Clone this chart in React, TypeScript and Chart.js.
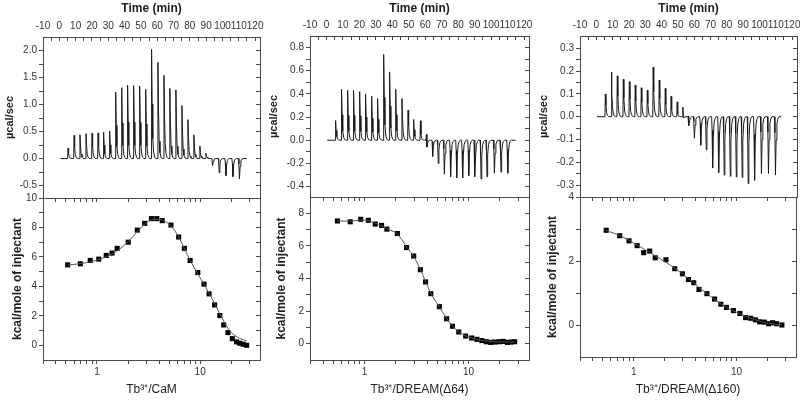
import React, { useEffect, useRef } from "react";
import { Chart, registerables } from "chart.js";

Chart.register(...registerables);

const FONT = "'Liberation Sans', Arial, Helvetica, sans-serif";
const AXIS_COLOR = "#4a4a4a";
const LABEL_COLOR = "#333333";
const TITLE_COLOR = "#1e1e1e";

// ---------- Thermograms (raw ITC, μcal/sec vs time) ----------
const P1_TIMES = [5.1, 8.8, 12.4, 16.1, 19.8, 23.5, 26.9, 30.6, 34.3, 38.0, 41.6, 45.3, 49.0, 52.7, 56.3, 60.2, 63.9, 67.5, 71.2, 74.9, 78.6, 82.2, 85.9, 89.6, 93.3, 97.4, 101.5, 105.8, 109.8];
const P1_UP = [0.19, 0.43, 0.44, 0.46, 0.47, 0.475, 0.49, 0.51, 1.23, 1.31, 1.36, 1.35, 1.34, 1.28, 2.02, 1.78, 1.54, 1.3, 1.27, 0.98, 0.72, 0.44, 0.23, 0.1, 0.05, 0.03, 0.01, 0.01, 0.01];
const P1_DOWN = [0, 0, 0, 0, 0, 0, 0, 0, 0, 0, 0, 0, 0, 0, 0, 0, 0, 0, 0, 0, 0, 0, 0, 0, -0.16, -0.28, -0.32, -0.34, -0.38];

const P2_TIMES = [5.3, 8.9, 12.6, 16.2, 19.9, 23.5, 27.2, 30.8, 34.5, 38.1, 41.8, 45.6, 49.3, 52.7, 56.8, 60.4, 63.9, 67.3, 71.0, 74.8, 78.5, 82.1, 85.8, 89.6, 93.3, 96.9, 101.4, 105.4, 109.5];
const P2_UP = [0.17, 0.44, 0.43, 0.43, 0.42, 0.4, 0.38, 0.36, 0.74, 0.59, 0.44, 0.36, 0.26, 0.18, 0.18, 0.08, 0.04, 0.02, 0.015, 0.01, 0.01, 0.01, 0.01, 0.01, 0.01, 0.01, 0.01, 0.01, 0.01];
const P2_DOWN = [0, 0, 0, 0, 0, 0, 0, 0, 0, 0, 0, 0, 0, 0, -0.04, -0.1, -0.16, -0.21, -0.3, -0.32, -0.33, -0.33, -0.31, -0.32, -0.34, -0.32, -0.29, -0.28, -0.29];

const P3_TIMES = [5.3, 9.0, 12.6, 16.3, 20.0, 23.6, 27.3, 31.0, 34.6, 38.3, 42.0, 45.6, 49.3, 52.8, 56.2, 59.5, 63.4, 66.8, 70.7, 74.4, 77.8, 81.5, 85.2, 88.8, 92.5, 96.4, 100.6, 104.9, 109.2];
const P3_UP = [0.1, 0.196, 0.179, 0.164, 0.154, 0.139, 0.127, 0.116, 0.218, 0.16, 0.127, 0.094, 0.072, 0.051, 0.018, 0.012, 0.01, 0.01, 0.01, 0.01, 0.008, 0.008, 0.008, 0.008, 0.008, 0.008, 0.008, 0.008, 0.008];
const P3_DOWN = [0, 0, 0, 0, 0, 0, 0, 0, 0, 0, -0.01, -0.015, -0.023, -0.03, -0.048, -0.1, -0.13, -0.15, -0.23, -0.25, -0.26, -0.265, -0.268, -0.27, -0.297, -0.283, -0.253, -0.253, -0.26];

// shape of one injection peak (relative), sampled at offsets in minutes
const PEAK_OFFSETS = [0, 0.25, 0.6, 1.0, 1.5, 2.1, 2.8];
const PEAK_UP_SHAPE = [0, 1, 0.5, 0.18, 0.06, 0.015, 0];
const PEAK_DOWN_SHAPE = [0, 0.3, 1, 0.4, 0.12, 0.03, 0];

// ---------- Binding isotherms (kcal/mole of injectant vs molar ratio) ----------
const P1_RATIO = [0.52, 0.69, 0.86, 1.04, 1.23, 1.4, 1.57, 2.01, 2.46, 2.9, 3.37, 3.8, 4.29, 5.21, 6.19, 7.03, 7.99, 9.49, 10.9, 12.2, 13.8, 15.5, 16.9, 18.6, 20.5, 22.5, 24.2, 26.1, 28.2];
const P1_HEAT = [5.46, 5.53, 5.76, 5.85, 6.1, 6.26, 6.58, 7.0, 7.82, 8.28, 8.6, 8.6, 8.46, 8.16, 7.35, 6.58, 5.76, 4.94, 4.15, 3.49, 2.74, 2.02, 1.38, 0.86, 0.45, 0.23, 0.14, 0.07, 0.0];
const P1_FIT_X = [0.52, 0.7, 0.9, 1.1, 1.3, 1.6, 2.0, 2.5, 3.0, 3.5, 4.0, 4.6, 5.2, 6.2, 7.0, 8.0, 9.5, 11, 12.5, 14, 16, 18, 20.5, 23, 25.5, 28.2];
const P1_FIT_Y = [5.45, 5.55, 5.7, 5.88, 6.08, 6.45, 7.02, 7.78, 8.3, 8.55, 8.55, 8.4, 8.12, 7.35, 6.6, 5.75, 4.85, 4.1, 3.4, 2.75, 1.95, 1.3, 0.8, 0.55, 0.4, 0.3];

const P2_RATIO = [0.55, 0.73, 0.92, 1.09, 1.27, 1.46, 1.64, 2.07, 2.54, 2.97, 3.44, 3.86, 4.34, 5.24, 6.15, 7.0, 8.04, 9.37, 10.7, 12.0, 13.4, 14.8, 16.3, 17.9, 19.7, 21.6, 23.6, 25.5, 27.7];
const P2_HEAT = [7.53, 7.48, 7.63, 7.57, 7.34, 7.26, 7.03, 6.76, 5.9, 5.38, 4.54, 3.79, 3.07, 2.27, 1.53, 1.07, 0.72, 0.47, 0.35, 0.27, 0.19, 0.12, 0.08, 0.1, 0.12, 0.14, 0.08, 0.1, 0.12];
const P2_FIT_X = [0.55, 0.73, 0.92, 1.09, 1.27, 1.46, 1.64, 2.07, 2.54, 2.97, 3.44, 3.86, 4.34, 5.24, 6.15, 7.0, 8.04, 9.37, 10.7, 13.4, 17.9, 22.0, 27.7];
const P2_FIT_Y = [7.53, 7.52, 7.58, 7.55, 7.38, 7.24, 7.06, 6.72, 5.95, 5.35, 4.55, 3.82, 3.1, 2.25, 1.55, 1.08, 0.73, 0.48, 0.35, 0.2, 0.12, 0.11, 0.1];

const P3_RATIO = [0.54, 0.73, 0.9, 1.08, 1.25, 1.43, 1.62, 2.06, 2.51, 2.98, 3.41, 3.84, 4.32, 5.16, 6.12, 7.05, 8.0, 9.35, 10.8, 12.3, 13.8, 15.3, 16.8, 18.7, 20.6, 22.5, 24.6, 27.7];
const P3_HEAT = [2.96, 2.79, 2.63, 2.48, 2.26, 2.31, 2.1, 2.04, 1.76, 1.6, 1.42, 1.32, 1.11, 0.98, 0.81, 0.65, 0.55, 0.45, 0.36, 0.23, 0.21, 0.16, 0.1, 0.09, 0.04, 0.07, 0.04, 0.0];
const P3_FIT_X = [0.54, 0.73, 0.9, 1.08, 1.25, 1.43, 1.62, 2.06, 2.51, 2.98, 3.41, 3.84, 4.32, 5.16, 6.12, 7.05, 8.0, 9.35, 10.8, 13.8, 16.8, 20.6, 24.6, 27.7];
const P3_FIT_Y = [2.95, 2.8, 2.65, 2.5, 2.38, 2.27, 2.16, 1.96, 1.77, 1.6, 1.45, 1.31, 1.17, 0.98, 0.8, 0.66, 0.55, 0.44, 0.35, 0.21, 0.12, 0.05, 0.02, 0.0];

// ---------- Tick labels ----------
const TIME_TICKS = [-10, -5, 0, 5, 10, 15, 20, 25, 30, 35, 40, 45, 50, 55, 60, 65, 70, 75, 80, 85, 90, 95, 100, 105, 110, 115, 120];
const TIME_LABELS = [-10, 0, 10, 20, 30, 40, 50, 60, 70, 80, 90, 100, 110, 120];
const LOG_TICKS = [0.3, 0.4, 0.5, 0.6, 0.7, 0.8, 0.9, 1, 2, 3, 4, 5, 6, 7, 8, 9, 10, 20, 30];
const LOG_LABELS = [1, 10];

const P1_TOP_TICKS = [-0.5, -0.25, 0, 0.25, 0.5, 0.75, 1, 1.25, 1.5, 1.75, 2];
const P1_TOP_LABELS = [-0.5, 0, 0.5, 1, 1.5, 2];
const P2_TOP_TICKS = [-0.4, -0.3, -0.2, -0.1, 0, 0.1, 0.2, 0.3, 0.4, 0.5, 0.6, 0.7, 0.8];
const P2_TOP_LABELS = [-0.4, -0.2, 0, 0.2, 0.4, 0.6, 0.8];
const P3_TOP_TICKS = [-0.3, -0.25, -0.2, -0.15, -0.1, -0.05, 0, 0.05, 0.1, 0.15, 0.2, 0.25, 0.3];
const P3_TOP_LABELS = [-0.3, -0.2, -0.1, 0, 0.1, 0.2, 0.3];

const P1_BOT_TICKS = [0, 1, 2, 3, 4, 5, 6, 7, 8, 9, 10];
const P1_BOT_LABELS = [0, 2, 4, 6, 8, 10];
const P2_BOT_TICKS = [0, 1, 2, 3, 4, 5, 6, 7, 8];
const P2_BOT_LABELS = [0, 2, 4, 6, 8];
const P3_BOT_TICKS = [0, 1, 2, 3, 4];
const P3_BOT_LABELS = [0, 2, 4];

const X_TITLES = ["Tb\u00B3\u207A/CaM", "Tb\u00B3\u207A/DREAM(\u039464)", "Tb\u00B3\u207A/DREAM(\u0394160)"];

type Panel = {
  times: number[]; up: number[]; down: number[]; traceStart: number; traceEnd: number;
  ratio: number[]; heat: number[]; fitX: number[]; fitY: number[];
  topMin: number; topMax: number; topTicks: number[]; topLabels: number[];
  botMin: number; botMax: number; botTicks: number[]; botLabels: number[];
  xTitle: string;
  // layout (pixels)
  L: number; R: number; T: number; M: number; B: number; padTopL: number; padBotL: number; xLabelPad: number;
};

const PANELS: Panel[] = [
  {
    times: P1_TIMES, up: P1_UP, down: P1_DOWN, traceStart: 0.8, traceEnd: 114.9,
    ratio: P1_RATIO, heat: P1_HEAT, fitX: P1_FIT_X, fitY: P1_FIT_Y,
    topMin: -0.73, topMax: 2.25, topTicks: P1_TOP_TICKS, topLabels: P1_TOP_LABELS,
    botMin: -1, botMax: 10, botTicks: P1_BOT_TICKS, botLabels: P1_BOT_LABELS,
    xTitle: X_TITLES[0],
    L: 43, R: 260, T: 37, M: 198, B: 360, padTopL: 0, padBotL: 7, xLabelPad: 2,
  },
  {
    times: P2_TIMES, up: P2_UP, down: P2_DOWN, traceStart: 0.4, traceEnd: 114.9,
    ratio: P2_RATIO, heat: P2_HEAT, fitX: P2_FIT_X, fitY: P2_FIT_Y,
    topMin: -0.49, topMax: 0.9, topTicks: P2_TOP_TICKS, topLabels: P2_TOP_LABELS,
    botMin: -1, botMax: 9, botTicks: P2_BOT_TICKS, botLabels: P2_BOT_LABELS,
    xTitle: X_TITLES[1],
    L: 310, R: 529, T: 36, M: 197, B: 360, padTopL: 264, padBotL: 271, xLabelPad: 2,
  },
  {
    times: P3_TIMES, up: P3_UP, down: P3_DOWN, traceStart: 0.4, traceEnd: 113.3,
    ratio: P3_RATIO, heat: P3_HEAT, fitX: P3_FIT_X, fitY: P3_FIT_Y,
    topMin: -0.352, topMax: 0.354, topTicks: P3_TOP_TICKS, topLabels: P3_TOP_LABELS,
    botMin: -1, botMax: 4, botTicks: P3_BOT_TICKS, botLabels: P3_BOT_LABELS,
    xTitle: X_TITLES[2],
    L: 580, R: 797, T: 36, M: 197, B: 357, padTopL: 534, padBotL: 542, xLabelPad: 5,
  },
];

function buildTrace(p: Panel) {
  const pts: { x: number; y: number }[] = [{ x: p.traceStart, y: 0 }];
  p.times.forEach((t, i) => {
    PEAK_OFFSETS.forEach((o, k) => {
      pts.push({ x: t + o, y: p.up[i] * PEAK_UP_SHAPE[k] + p.down[i] * PEAK_DOWN_SHAPE[k] });
    });
  });
  pts.push({ x: p.traceEnd, y: 0 });
  return pts;
}

const setTicks = (vals: number[]) => (s: any) => {
  s.ticks = vals.map((v) => ({ value: v }));
};
const fixSize = (w?: number, h?: number) => (s: any) => {
  if (w !== undefined) s.width = w;
  if (h !== undefined) s.height = h;
  s.paddingLeft = 0;
  s.paddingRight = 0;
  s.paddingTop = 0;
  s.paddingBottom = 0;
};

const tickFont = { family: FONT, size: 10 };
const gridOut = { drawOnChartArea: false, tickLength: 4, color: AXIS_COLOR, tickColor: AXIS_COLOR };
const gridIn = { drawOnChartArea: false, tickLength: -4, color: AXIS_COLOR, tickColor: AXIS_COLOR };
const border = { color: AXIS_COLOR, width: 1 };

function makeTop(canvas: HTMLCanvasElement, p: Panel) {
  return new Chart(canvas, {
    type: "line",
    data: {
      datasets: [
        {
          data: buildTrace(p),
          borderColor: "#1a1a1a",
          borderWidth: 1,
          pointRadius: 0,
          tension: 0,
          fill: false,
          xAxisID: "x",
          yAxisID: "y",
        },
      ],
    },
    options: {
      responsive: false,
      animation: false,
      events: [],
      layout: { padding: { left: p.padTopL, right: 800 - p.R - 1, top: 0, bottom: 400 - p.M } },
      plugins: { legend: { display: false }, tooltip: { enabled: false } },
      scales: {
        x: {
          type: "linear",
          position: "top",
          min: -10,
          max: 123,
          afterBuildTicks: setTicks(TIME_TICKS),
          afterFit: fixSize(undefined, p.T),
          ticks: {
            autoSkip: false,
            maxRotation: 0,
            padding: 8.5,
            font: tickFont,
            color: LABEL_COLOR,
            callback: (v: any) => (TIME_LABELS.includes(v) ? String(v) : ""),
          },
          grid: gridIn,
          border,
          title: {
            display: true,
            text: "Time (min)",
            color: TITLE_COLOR,
            font: { family: FONT, size: 12, weight: "bold" },
            padding: { top: 1, bottom: 0 },
          },
        },
        y: {
          type: "linear",
          position: "left",
          min: p.topMin,
          max: p.topMax,
          afterBuildTicks: setTicks(p.topTicks),
          afterFit: fixSize(p.L - p.padTopL, undefined),
          ticks: {
            autoSkip: false,
            padding: 2,
            font: tickFont,
            color: LABEL_COLOR,
            callback: (v: any) => (p.topLabels.includes(v) ? Number(v).toFixed(1) : ""),
          },
          grid: gridOut,
          border,
          title: {
            display: true,
            text: "\u00B5cal/sec",
            color: TITLE_COLOR,
            font: { family: FONT, size: 11, weight: "bold" },
            padding: { top: 3, bottom: 0 },
          },
        },
        yr: {
          type: "linear",
          position: "right",
          min: p.topMin,
          max: p.topMax,
          afterBuildTicks: setTicks(p.topTicks),
          afterFit: fixSize(1, undefined),
          ticks: { display: false },
          grid: gridIn,
          border,
        },
      },
    } as any,
  });
}

function makeBottom(canvas: HTMLCanvasElement, p: Panel) {
  return new Chart(canvas, {
    type: "line",
    data: {
      datasets: [
        {
          data: p.fitX.map((x, i) => ({ x, y: p.fitY[i] })),
          borderColor: "#555555",
          borderWidth: 1,
          pointRadius: 0,
          cubicInterpolationMode: "monotone",
          fill: false,
          xAxisID: "x",
          yAxisID: "y",
        },
        {
          data: p.ratio.map((x, i) => ({ x, y: p.heat[i] })),
          showLine: false,
          pointStyle: "rect",
          pointRadius: 3.6,
          pointBackgroundColor: "#000000",
          pointBorderColor: "#000000",
          pointBorderWidth: 0,
          xAxisID: "x",
          yAxisID: "y",
        },
      ],
    },
    options: {
      responsive: false,
      animation: false,
      events: [],
      layout: { padding: { left: p.padBotL, right: 800 - p.R - 1, top: p.M - 1, bottom: 0 } },
      plugins: { legend: { display: false }, tooltip: { enabled: false } },
      scales: {
        x: {
          type: "logarithmic",
          position: "bottom",
          min: 0.3,
          max: 38,
          afterBuildTicks: setTicks(LOG_TICKS),
          afterFit: fixSize(undefined, 400 - p.B),
          ticks: {
            autoSkip: false,
            maxRotation: 0,
            padding: p.xLabelPad,
            font: tickFont,
            color: LABEL_COLOR,
            callback: (v: any) => (LOG_LABELS.includes(v) ? String(v) : ""),
          },
          grid: gridOut,
          border,
          title: {
            display: true,
            text: p.xTitle,
            color: TITLE_COLOR,
            font: { family: FONT, size: 12 },
            padding: { top: 0, bottom: 3 },
          },
        },
        xt: {
          type: "logarithmic",
          position: "top",
          min: 0.3,
          max: 38,
          afterBuildTicks: setTicks(LOG_TICKS),
          afterFit: fixSize(undefined, 1),
          ticks: { display: false },
          grid: gridIn,
          border,
        },
        y: {
          type: "linear",
          position: "left",
          min: p.botMin,
          max: p.botMax,
          afterBuildTicks: setTicks(p.botTicks),
          afterFit: fixSize(p.L - p.padBotL, undefined),
          ticks: {
            autoSkip: false,
            padding: 2,
            font: tickFont,
            color: LABEL_COLOR,
            callback: (v: any) => (p.botLabels.includes(v) ? String(v) : ""),
          },
          grid: gridOut,
          border,
          title: {
            display: true,
            text: "kcal/mole of injectant",
            color: TITLE_COLOR,
            font: { family: FONT, size: 12, weight: "bold" },
            padding: { top: 3, bottom: 0 },
          },
        },
        yr: {
          type: "linear",
          position: "right",
          min: p.botMin,
          max: p.botMax,
          afterBuildTicks: setTicks(p.botTicks),
          afterFit: fixSize(1, undefined),
          ticks: { display: false },
          grid: gridIn,
          border,
        },
      },
    } as any,
  });
}

export default function App() {
  const refs = useRef<(HTMLCanvasElement | null)[]>([]);

  useEffect(() => {
    const charts: Chart[] = [];
    PANELS.forEach((p, i) => {
      const top = refs.current[i * 2];
      const bot = refs.current[i * 2 + 1];
      if (top) charts.push(makeTop(top, p));
      if (bot) charts.push(makeBottom(bot, p));
    });
    return () => charts.forEach((c) => c.destroy());
  }, []);

  const style: React.CSSProperties = { position: "absolute", left: 0, top: 0, width: 800, height: 400 };
  return (
    <div style={{ position: "absolute", left: 0, top: 0, width: 800, height: 400, background: "#ffffff" }}>
      {PANELS.map((_, i) => (
        <React.Fragment key={i}>
          <canvas ref={(el) => { refs.current[i * 2] = el; }} width={800} height={400} style={style} />
          <canvas ref={(el) => { refs.current[i * 2 + 1] = el; }} width={800} height={400} style={style} />
        </React.Fragment>
      ))}
    </div>
  );
}
